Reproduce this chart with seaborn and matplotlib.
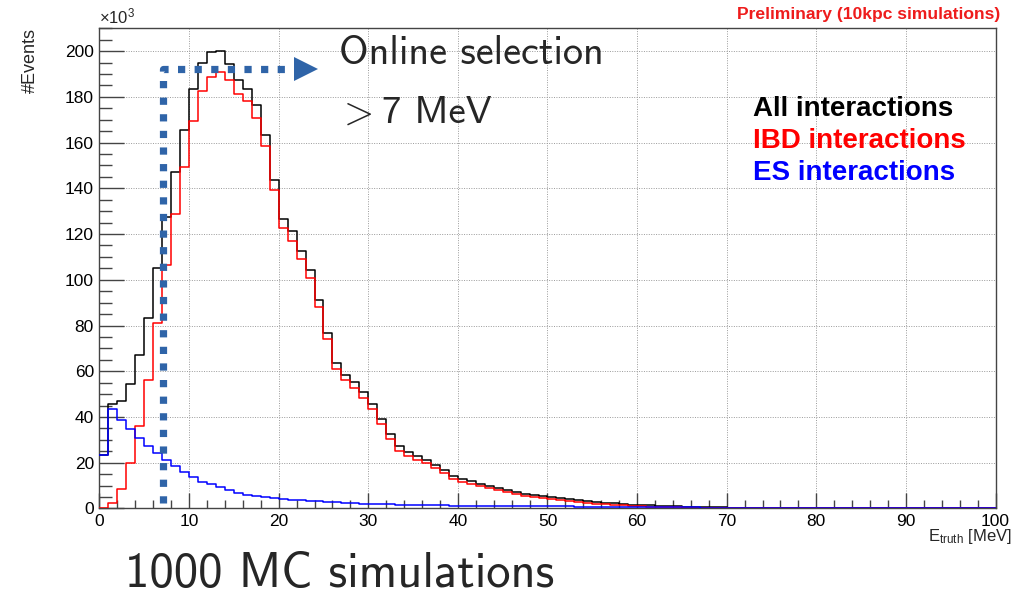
import numpy as np
import pandas as pd
import matplotlib
matplotlib.use("Agg")
import matplotlib.pyplot as plt
import seaborn as sns
from matplotlib.ticker import MultipleLocator

# ---------------- data (events, units of 10^3 per 1 MeV bin) ----------------
bin_edges = list(range(0, 101, 1))

all_interactions = [
    23.3, 45.6, 47.0, 54.3, 67.0, 83.5, 105.2, 127.5, 147.1, 165.3,
    183.5, 194.9, 199.6, 200.0, 194.5, 187.5, 183.5, 176.3, 163.4, 143.8,
    126.7, 121.2, 112.6, 104.2, 91.3, 76.9, 63.5, 58.5, 55.1, 50.9,
    45.7, 39.1, 32.7, 27.1, 24.8, 23.0, 21.3, 19.1, 17.0, 14.4,
    13.0, 11.9, 10.8, 9.8, 9.0, 8.0, 7.1, 6.3, 5.8, 5.4,
    5.0, 4.5, 4.1, 3.6, 3.2, 2.8, 2.5, 2.2, 1.9, 1.7,
    1.5, 1.3, 1.2, 1.0, 0.9, 0.8, 0.7, 0.6, 0.5, 0.45,
    0.4, 0.35, 0.3, 0.27, 0.24, 0.21, 0.18, 0.16, 0.14, 0.12,
    0.1, 0.08, 0.06, 0.04, 0.0, 0.0, 0.0, 0.0, 0.0, 0.0,
    0.0, 0.0, 0.0, 0.0, 0.0, 0.0, 0.0, 0.0, 0.0, 0.0,
]

ibd_interactions = [
    0.0, 2.5, 8.4, 19.7, 36.1, 56.1, 81.1, 106.3, 128.9, 149.3,
    169.3, 182.4, 188.6, 190.8, 187.2, 181.1, 178.2, 170.7, 158.3, 139.1,
    122.5, 117.0, 109.2, 100.7, 88.3, 73.9, 60.8, 56.3, 52.7, 48.3,
    43.5, 37.1, 30.5, 25.2, 22.9, 21.3, 19.8, 17.6, 15.6, 13.0,
    11.7, 10.7, 9.7, 8.8, 8.0, 7.1, 6.2, 5.5, 4.9, 4.6,
    4.2, 3.7, 3.3, 2.9, 2.5, 2.1, 1.9, 1.6, 1.4, 1.2,
    1.0, 0.85, 0.75, 0.6, 0.5, 0.4, 0.35, 0.3, 0.25, 0.22,
    0.2, 0.18, 0.16, 0.14, 0.12, 0.1, 0.09, 0.08, 0.07, 0.06,
    0.05, 0.04, 0.04, 0.03, 0.03, 0.02, 0.02, 0.02, 0.02, 0.02,
    0.02, 0.02, 0.0, 0.0, 0.0, 0.0, 0.0, 0.0, 0.0, 0.0,
]

es_interactions = [
    23.3, 43.7, 38.6, 34.7, 30.6, 27.4, 24.3, 21.1, 18.6, 16.0,
    13.8, 11.7, 10.6, 9.2, 8.0, 6.8, 6.1, 5.4, 4.9, 4.5,
    4.2, 3.9, 3.6, 3.4, 3.1, 2.9, 2.7, 2.5, 2.3, 2.1,
    2.0, 1.9, 1.8, 1.7, 1.6, 1.5, 1.45, 1.4, 1.3, 1.25,
    1.2, 1.15, 1.12, 1.1, 1.07, 1.05, 1.02, 1.0, 0.95, 0.92,
    0.9, 0.88, 0.86, 0.84, 0.82, 0.8, 0.6, 0.58, 0.56, 0.55,
    0.54, 0.52, 0.5, 0.49, 0.48, 0.46, 0.45, 0.35, 0.3, 0.3,
    0.28, 0.27, 0.26, 0.25, 0.24, 0.23, 0.22, 0.21, 0.2, 0.2,
    0.19, 0.18, 0.17, 0.16, 0.15, 0.15, 0.14, 0.14, 0.13, 0.13,
    0.12, 0.12, 0.11, 0.11, 0.1, 0.1, 0.1, 0.1, 0.1, 0.1,
]

series_names = ["All interactions", "IBD interactions", "ES interactions"]
series_colors = ["#000000", "#ff0000", "#0000ff"]
x_ticks = [0, 10, 20, 30, 40, 50, 60, 70, 80, 90, 100]
y_ticks = [0, 20, 40, 60, 80, 100, 120, 140, 160, 180, 200]
selection_cut = 7.1     # MeV, online selection threshold marker
selection_level = 192.3 # height of the arrow (10^3 events)

# ---------------- style ----------------
sns.set_theme(style="white")
plt.rcParams["font.family"] = ["Liberation Sans", "DejaVu Sans"]
plt.rcParams["mathtext.fontset"] = "custom"
plt.rcParams["mathtext.rm"] = "Liberation Sans"
plt.rcParams["mathtext.it"] = "Liberation Sans:italic"
plt.rcParams["mathtext.bf"] = "Liberation Sans:bold"

centers = [e + 0.5 for e in bin_edges[:-1]]
df = pd.DataFrame({
    "energy": centers * 3,
    "events": all_interactions + ibd_interactions + es_interactions,
    "series": [n for n in series_names for _ in centers],
})

fig = plt.figure(figsize=(10.2, 5.94), dpi=100)
ax = fig.add_axes([0.0975, 0.144, 0.8785, 0.8085])

for name, color in zip(series_names, series_colors):
    sub = df[df["series"] == name].reset_index(drop=True)
    sns.histplot(data=sub, x="energy", weights="events", bins=bin_edges,
                 element="step", fill=False, color=color, linewidth=1.1,
                 ax=ax, zorder=3)

ax.set_xlim(0, 100)
ax.set_ylim(0, 210)
ax.set_xticks(x_ticks)
ax.set_yticks(y_ticks)
ax.xaxis.set_minor_locator(MultipleLocator(2))
ax.yaxis.set_minor_locator(MultipleLocator(5))
ax.tick_params(axis="both", which="both", direction="in", colors="#444444",
               labelcolor="black", labelsize=12.5, width=1.0,
               bottom=True, left=True, top=False, right=False)
ax.tick_params(axis="x", which="major", length=10.8, pad=4)
ax.tick_params(axis="x", which="minor", length=5.5)
ax.tick_params(axis="y", which="major", length=18, pad=4)
ax.tick_params(axis="y", which="minor", length=9)
ax.set_xlabel("")
ax.set_ylabel("")
ax.set_axisbelow(True)
ax.grid(True, which="major", color="#9a9a9a", linestyle=(0, (1, 1.5)), linewidth=0.7)
for s in ax.spines.values():
    s.set_visible(True)
    s.set_color("#444444")
    s.set_linewidth(1.0)

# online selection marker
ax.plot([selection_cut, selection_cut, 21.9], [2.5, selection_level, selection_level],
        color="#2f64a8", linewidth=5.2, linestyle=(0, (1, 1.3)),
        solid_capstyle="butt", dash_capstyle="butt", zorder=5)
ax.plot([23.1], [selection_level], marker=">", markersize=17, color="#2f64a8",
        markeredgewidth=0, zorder=5)

# texts (figure pixel coordinates converted to fractions)
W, H = 1020, 594
def fx(px): return px / W
def fy(py): return 1 - py / H

fig.text(fx(30), fy(28), "#Events", rotation=90, ha="center", va="top", fontsize=13)
fig.text(fx(99), fy(23), r"$\times$10$^{3}$", ha="left", va="baseline", fontsize=12)
fig.text(fx(1012), fy(541.5), r"E$_{\mathrm{truth}}$ [MeV]", ha="right", va="baseline",
         fontsize=12)
fig.text(fx(1000), fy(18.5), "Preliminary (10kpc simulations)", ha="right",
         va="baseline", fontsize=12.6, fontweight="bold", color="#ee1c1c")

legend_y = [116.5, 148.5, 180]
for name, color, yy in zip(series_names, series_colors, legend_y):
    fig.text(fx(753), fy(yy), name, ha="left", va="baseline", fontsize=20,
             fontweight="bold", color=color)

fig.text(fx(339), fy(64.3), "Online selection", ha="left", va="baseline",
         fontsize=29, family="cmss10")
fig.text(fx(337), fy(123.3), r"$>$", ha="left", va="baseline",
         fontsize=28, math_fontfamily="cm")
fig.text(fx(382), fy(123.3), "7 MeV", ha="left", va="baseline",
         fontsize=28, family="cmss10")
fig.text(fx(125), fy(587), "1000 MC simulations", ha="left", va="baseline",
         fontsize=35, family="cmss10")

fig.savefig("out.png", dpi=100)
